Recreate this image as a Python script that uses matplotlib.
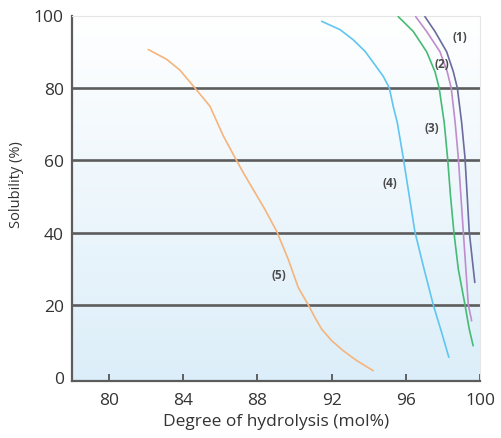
import numpy as np
import matplotlib
matplotlib.use("Agg")
import matplotlib.pyplot as plt
from matplotlib.colors import LinearSegmentedColormap

plt.rcParams['font.family'] = ['Open Sans', 'DejaVu Sans']

# ---- data ----
x5 = [82.11, 83.10, 83.82, 84.54, 85.44, 86.16, 86.79, 87.23, 87.77, 88.40, 89.04,
      89.66, 90.20, 90.74, 91.10, 91.46, 92.00, 92.63, 93.35, 94.24]
y5 = [90.6, 87.9, 84.9, 80.5, 74.9, 66.7, 60.7, 56.6, 51.9, 46.4, 40.3,
      32.6, 24.8, 20.0, 16.5, 13.3, 10.1, 7.3, 4.6, 1.8]

x4 = [91.46, 92.45, 93.16, 93.80, 94.33, 94.78, 95.11, 95.32, 95.54, 95.86, 96.13,
      96.49, 96.94, 97.48, 97.93, 98.32]
y4 = [98.4, 96.1, 93.3, 90.1, 86.4, 83.2, 80.0, 74.9, 70.4, 60.7, 51.9,
      40.2, 30.8, 20.0, 12.4, 5.5]

x3 = [95.59, 96.40, 97.12, 97.57, 97.80, 98.07, 98.25, 98.41, 98.59, 98.83, 99.19, 99.42, 99.63]
y3 = [99.7, 95.6, 90.0, 84.5, 79.9, 70.4, 60.7, 50.1, 40.2, 29.9, 20.0, 13.3, 8.7]

x2 = [96.53, 97.12, 97.84, 98.23, 98.45, 98.66, 98.83, 98.97, 99.10, 99.37, 99.55]
y2 = [99.7, 95.6, 90.0, 84.5, 79.9, 70.4, 60.7, 50.1, 40.2, 20.0, 15.6]

x1 = [97.03, 97.57, 98.20, 98.56, 98.78, 99.01, 99.19, 99.31, 99.42, 99.72]
y1 = [99.7, 95.6, 90.0, 84.5, 79.9, 70.4, 60.7, 50.1, 40.2, 26.2]

series_labels = ['(1)', '(2)', '(3)', '(4)', '(5)']
label_x = [98.92, 97.93, 97.39, 95.14, 89.18]
label_y = [94.2, 86.8, 69.0, 53.9, 28.3]

xticks = [80, 84, 88, 92, 96, 100]
yticks = [0, 20, 40, 60, 80, 100]
xlabel = 'Degree of hydrolysis (mol%)'
ylabel = 'Solubility (%)'

colors = ['#6b6b9e', '#c08ccc', '#45bb74', '#5fc6ef', '#f5b47c']

# ---- figure ----
fig = plt.figure(figsize=(5.01, 4.39), dpi=100)
ax = fig.add_axes([72/501, (439-378.2-3.6)/439, 408/501, (378.2+3.6-16.5)/439])
ax.set_xlim(78, 100)
ax.set_ylim(-1, 100)

# gradient background
cmap = LinearSegmentedColormap.from_list('bg', ['#dceef9', '#ffffff'])
grad = np.linspace(0, 1, 256).reshape(-1, 1)
ax.imshow(grad, aspect='auto', cmap=cmap, origin='lower',
          extent=[0, 1, 0, 1], transform=ax.transAxes, zorder=0)

for gy in yticks[1:-1]:
    ax.axhline(gy, color='#5c5c5c', lw=1.9, zorder=1)

for xs, ys, c in zip([x1, x2, x3, x4, x5], [y1, y2, y3, y4, y5], colors):
    ax.plot(xs, ys, color=c, lw=1.2, zorder=3, solid_capstyle='round',
            solid_joinstyle='round', antialiased=True)

for t, lx, ly in zip(series_labels, label_x, label_y):
    ax.text(lx, ly, t, fontsize=8.5, fontweight='bold', color='#4a4a4a',
            ha='center', va='center', zorder=4)

ax.set_xticks(xticks)
ax.set_yticks(yticks)
ax.tick_params(axis='x', direction='in', length=5, width=1.3, color='#555555',
               labelsize=12.5, labelcolor='#333333', pad=8)
ax.tick_params(axis='y', length=0, labelsize=12.5, labelcolor='#333333', pad=6)

for s in ['left', 'bottom']:
    ax.spines[s].set_color('#5c5c5c')
    ax.spines[s].set_linewidth(1.6)
for s in ['top', 'right']:
    ax.spines[s].set_color('#e6e6e6')
    ax.spines[s].set_linewidth(0.8)

ax.set_xlabel(xlabel, fontsize=12.5, color='#333333', labelpad=4)
ax.set_ylabel(ylabel, fontsize=10.5, color='#333333')
ax.yaxis.set_label_coords(-0.118, 0.54)

fig.savefig('out.png', dpi=100)
